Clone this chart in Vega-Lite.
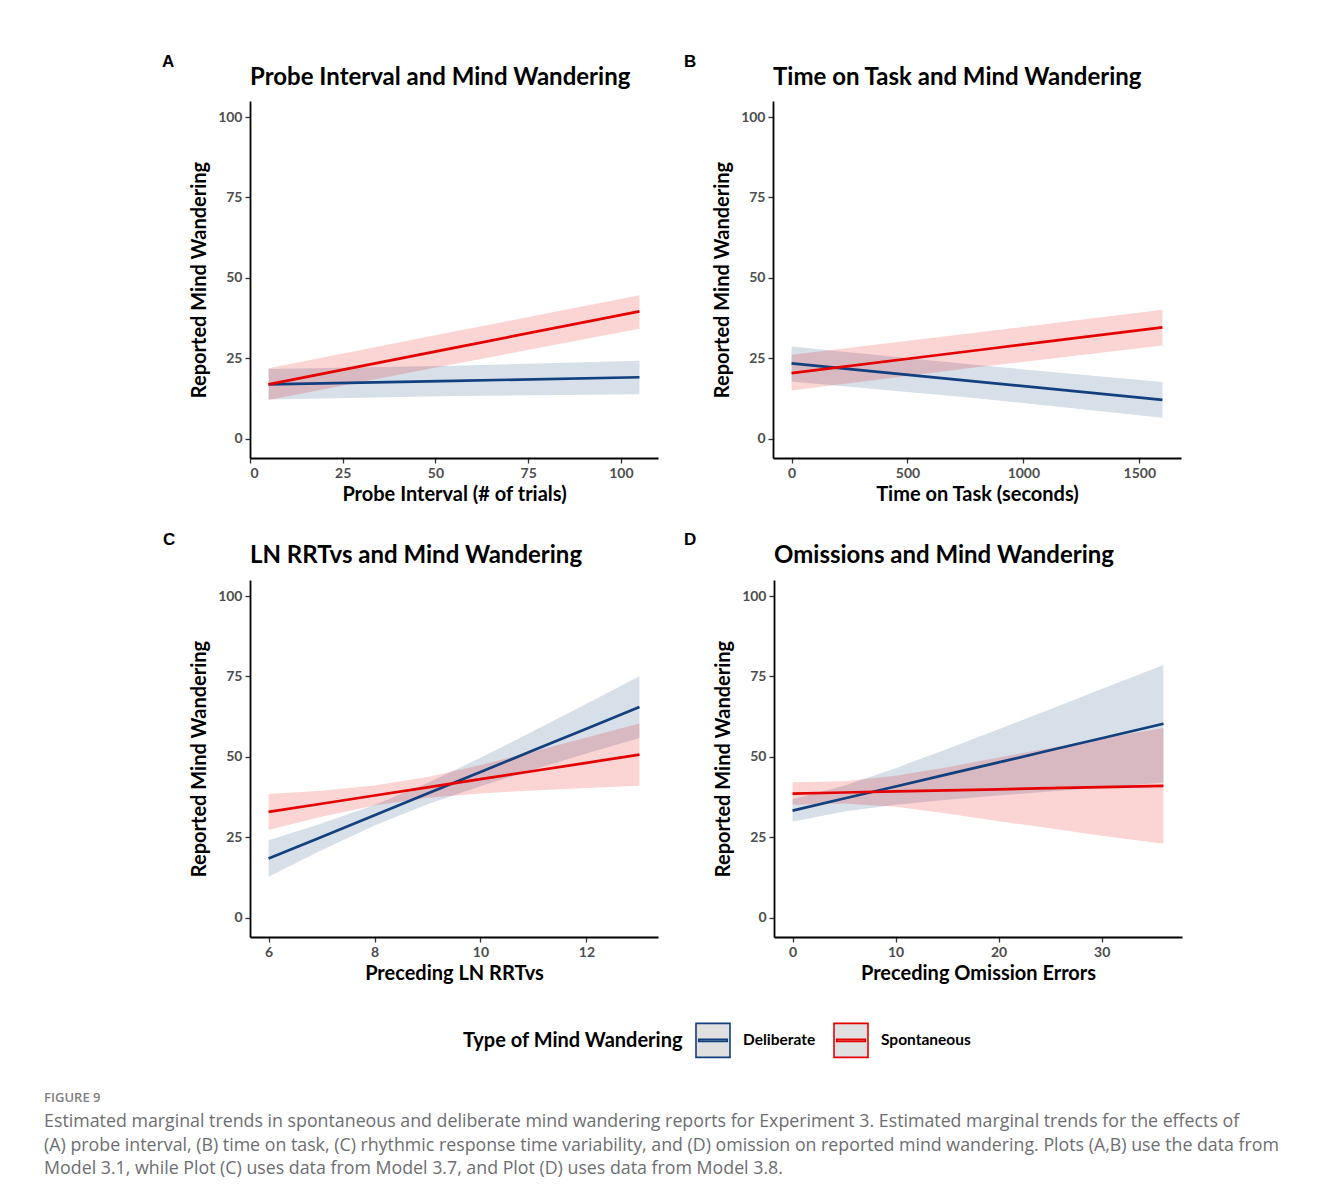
{
  "$schema": "https://vega.github.io/schema/vega-lite/v6.json",
  "background": "white",
  "padding": {"left": 44, "top": 52, "right": 0, "bottom": 0},
  "datasets": {
    "trend": [
      {"panel": "A", "type": "Deliberate", "x": 5, "fit": 16.9, "lo": 12.2, "hi": 21.7},
      {"panel": "A", "type": "Deliberate", "x": 55, "fit": 18.0, "lo": 13.3, "hi": 22.7},
      {"panel": "A", "type": "Deliberate", "x": 105, "fit": 19.1, "lo": 13.8, "hi": 24.2},
      {"panel": "A", "type": "Spontaneous", "x": 5, "fit": 16.9, "lo": 12.0, "hi": 21.9},
      {"panel": "A", "type": "Spontaneous", "x": 55, "fit": 28.25, "lo": 23.2, "hi": 33.3},
      {"panel": "A", "type": "Spontaneous", "x": 105, "fit": 39.6, "lo": 34.2, "hi": 44.6},
      {"panel": "B", "type": "Deliberate", "x": 0, "fit": 23.4, "lo": 17.8, "hi": 28.7},
      {"panel": "B", "type": "Deliberate", "x": 800, "fit": 17.75, "lo": 12.6, "hi": 22.9},
      {"panel": "B", "type": "Deliberate", "x": 1600, "fit": 12.1, "lo": 6.5, "hi": 17.6},
      {"panel": "B", "type": "Spontaneous", "x": 0, "fit": 20.4, "lo": 15.0, "hi": 26.1},
      {"panel": "B", "type": "Spontaneous", "x": 800, "fit": 27.5, "lo": 22.2, "hi": 33.0},
      {"panel": "B", "type": "Spontaneous", "x": 1600, "fit": 34.6, "lo": 29.0, "hi": 40.1},
      {"panel": "C", "type": "Deliberate", "x": 6, "fit": 18.4, "lo": 12.74, "hi": 24.06},
      {"panel": "C", "type": "Deliberate", "x": 7, "fit": 25.13, "lo": 20.99, "hi": 29.27},
      {"panel": "C", "type": "Deliberate", "x": 8, "fit": 31.86, "lo": 28.68, "hi": 35.04},
      {"panel": "C", "type": "Deliberate", "x": 9, "fit": 38.59, "lo": 35.29, "hi": 41.89},
      {"panel": "C", "type": "Deliberate", "x": 10, "fit": 45.32, "lo": 40.91, "hi": 49.73},
      {"panel": "C", "type": "Deliberate", "x": 11, "fit": 52.05, "lo": 46.06, "hi": 58.04},
      {"panel": "C", "type": "Deliberate", "x": 12, "fit": 58.77, "lo": 51.02, "hi": 66.52},
      {"panel": "C", "type": "Deliberate", "x": 13, "fit": 65.5, "lo": 55.91, "hi": 75.09},
      {"panel": "C", "type": "Spontaneous", "x": 6, "fit": 32.9, "lo": 27.3, "hi": 38.5},
      {"panel": "C", "type": "Spontaneous", "x": 7, "fit": 35.44, "lo": 31.38, "hi": 39.5},
      {"panel": "C", "type": "Spontaneous", "x": 8, "fit": 37.99, "lo": 34.9, "hi": 41.08},
      {"panel": "C", "type": "Spontaneous", "x": 9, "fit": 40.53, "lo": 37.28, "hi": 43.78},
      {"panel": "C", "type": "Spontaneous", "x": 10, "fit": 43.07, "lo": 38.65, "hi": 47.49},
      {"panel": "C", "type": "Spontaneous", "x": 11, "fit": 45.62, "lo": 39.58, "hi": 51.66},
      {"panel": "C", "type": "Spontaneous", "x": 12, "fit": 48.16, "lo": 40.32, "hi": 56.0},
      {"panel": "C", "type": "Spontaneous", "x": 13, "fit": 50.7, "lo": 40.99, "hi": 60.41},
      {"panel": "D", "type": "Deliberate", "x": 0, "fit": 33.3, "lo": 29.8, "hi": 36.8},
      {"panel": "D", "type": "Deliberate", "x": 5, "fit": 37.05, "lo": 33.05, "hi": 41.05},
      {"panel": "D", "type": "Deliberate", "x": 10, "fit": 40.8, "lo": 35.1, "hi": 46.5},
      {"panel": "D", "type": "Deliberate", "x": 15, "fit": 44.55, "lo": 36.65, "hi": 52.45},
      {"panel": "D", "type": "Deliberate", "x": 20, "fit": 48.3, "lo": 38.0, "hi": 58.6},
      {"panel": "D", "type": "Deliberate", "x": 25, "fit": 52.05, "lo": 39.25, "hi": 64.85},
      {"panel": "D", "type": "Deliberate", "x": 30, "fit": 55.8, "lo": 40.5, "hi": 71.1},
      {"panel": "D", "type": "Deliberate", "x": 36, "fit": 60.3, "lo": 42.0, "hi": 78.6},
      {"panel": "D", "type": "Spontaneous", "x": 0, "fit": 38.6, "lo": 35.1, "hi": 42.1},
      {"panel": "D", "type": "Spontaneous", "x": 5, "fit": 38.93, "lo": 35.5, "hi": 42.4},
      {"panel": "D", "type": "Spontaneous", "x": 10, "fit": 39.27, "lo": 34.5, "hi": 44.1},
      {"panel": "D", "type": "Spontaneous", "x": 15, "fit": 39.6, "lo": 32.4, "hi": 46.8},
      {"panel": "D", "type": "Spontaneous", "x": 20, "fit": 39.93, "lo": 30.0, "hi": 49.8},
      {"panel": "D", "type": "Spontaneous", "x": 25, "fit": 40.27, "lo": 27.8, "hi": 52.8},
      {"panel": "D", "type": "Spontaneous", "x": 30, "fit": 40.6, "lo": 25.5, "hi": 55.7},
      {"panel": "D", "type": "Spontaneous", "x": 36, "fit": 41.0, "lo": 23.0, "hi": 59.0}
    ]
  },
  "vconcat": [
    {
      "hconcat": [
        {
          "width": 408, "height": 357,
          "title": {"text": "Probe Interval and Mind Wandering"},
          "layer": [
            {"data": {"name": "trend"}, "transform": [{"filter": "datum.panel === 'A' && datum.type === 'Deliberate'"}],
             "mark": {"type": "area", "color": "#123f7d", "fillOpacity": 0.17},
             "encoding": {
               "x": {"field": "x", "type": "quantitative", "scale": {"domain": [0, 110], "nice": false, "zero": false}, "axis": {"values": [0, 25, 50, 75, 100], "format": "d", "title": "Probe Interval (# of trials)"}},
               "y": {"field": "lo", "type": "quantitative", "scale": {"domain": [-6, 105], "nice": false, "zero": false}, "axis": {"values": [0, 25, 50, 75, 100], "title": "Reported Mind Wandering"}},
               "y2": {"field": "hi"}}},
            {"data": {"name": "trend"}, "transform": [{"filter": "datum.panel === 'A' && datum.type === 'Spontaneous'"}],
             "mark": {"type": "area", "color": "#e50000", "fillOpacity": 0.17},
             "encoding": {"x": {"field": "x", "type": "quantitative"}, "y": {"field": "lo", "type": "quantitative"}, "y2": {"field": "hi"}}},
            {"data": {"name": "trend"}, "transform": [{"filter": "datum.panel === 'A'"}],
             "mark": {"type": "line", "strokeWidth": 2.7},
             "encoding": {
               "x": {"field": "x", "type": "quantitative"},
               "y": {"field": "fit", "type": "quantitative"},
               "color": {"field": "type", "type": "nominal", "scale": {"domain": ["Deliberate", "Spontaneous"], "range": ["#123f7d", "#e50000"]},
                 "legend": {"orient": "none", "legendX": 213, "legendY": 921, "direction": "horizontal", "title": "Type of Mind Wandering"}}
             }},
            {"data": {"values": [{"label": "A"}]},
             "mark": {"type": "text", "align": "left", "baseline": "alphabetic", "fontSize": 17, "fontWeight": "bold", "font": "Liberation Sans", "color": "black"},
             "encoding": {"x": {"datum": -23.7}, "y": {"datum": 115.6}, "text": {"field": "label"}}}
          ]
        },
        {
          "width": 408, "height": 357,
          "title": {"text": "Time on Task and Mind Wandering"},
          "layer": [
            {"data": {"name": "trend"}, "transform": [{"filter": "datum.panel === 'B' && datum.type === 'Deliberate'"}],
             "mark": {"type": "area", "color": "#123f7d", "fillOpacity": 0.17},
             "encoding": {
               "x": {"field": "x", "type": "quantitative", "scale": {"domain": [-80, 1680], "nice": false, "zero": false}, "axis": {"values": [0, 500, 1000, 1500], "format": "d", "title": "Time on Task (seconds)"}},
               "y": {"field": "lo", "type": "quantitative", "scale": {"domain": [-6, 105], "nice": false, "zero": false}, "axis": {"values": [0, 25, 50, 75, 100], "title": "Reported Mind Wandering"}},
               "y2": {"field": "hi"}}},
            {"data": {"name": "trend"}, "transform": [{"filter": "datum.panel === 'B' && datum.type === 'Spontaneous'"}],
             "mark": {"type": "area", "color": "#e50000", "fillOpacity": 0.17},
             "encoding": {"x": {"field": "x", "type": "quantitative"}, "y": {"field": "lo", "type": "quantitative"}, "y2": {"field": "hi"}}},
            {"data": {"name": "trend"}, "transform": [{"filter": "datum.panel === 'B'"}],
             "mark": {"type": "line", "strokeWidth": 2.7},
             "encoding": {
               "x": {"field": "x", "type": "quantitative"},
               "y": {"field": "fit", "type": "quantitative"},
               "color": {"field": "type", "type": "nominal", "scale": {"domain": ["Deliberate", "Spontaneous"], "range": ["#123f7d", "#e50000"]},
                 "legend": {"orient": "none", "legendX": 213, "legendY": 921, "direction": "horizontal", "title": "Type of Mind Wandering"}}
             }},
            {"data": {"values": [{"label": "B"}]},
             "mark": {"type": "text", "align": "left", "baseline": "alphabetic", "fontSize": 17, "fontWeight": "bold", "font": "Liberation Sans", "color": "black"},
             "encoding": {"x": {"datum": -464}, "y": {"datum": 115.6}, "text": {"field": "label"}}}
          ]
        }
      ],
      "spacing": 25
    },
    {
      "hconcat": [
        {
          "width": 408, "height": 357,
          "title": {"text": "LN RRTvs and Mind Wandering"},
          "layer": [
            {"data": {"name": "trend"}, "transform": [{"filter": "datum.panel === 'C' && datum.type === 'Deliberate'"}],
             "mark": {"type": "area", "color": "#123f7d", "fillOpacity": 0.17},
             "encoding": {
               "x": {"field": "x", "type": "quantitative", "scale": {"domain": [5.65, 13.35], "nice": false, "zero": false}, "axis": {"values": [6, 8, 10, 12], "format": "d", "title": "Preceding LN RRTvs"}},
               "y": {"field": "lo", "type": "quantitative", "scale": {"domain": [-6, 105], "nice": false, "zero": false}, "axis": {"values": [0, 25, 50, 75, 100], "title": "Reported Mind Wandering"}},
               "y2": {"field": "hi"}}},
            {"data": {"name": "trend"}, "transform": [{"filter": "datum.panel === 'C' && datum.type === 'Spontaneous'"}],
             "mark": {"type": "area", "color": "#e50000", "fillOpacity": 0.17},
             "encoding": {"x": {"field": "x", "type": "quantitative"}, "y": {"field": "lo", "type": "quantitative"}, "y2": {"field": "hi"}}},
            {"data": {"name": "trend"}, "transform": [{"filter": "datum.panel === 'C'"}],
             "mark": {"type": "line", "strokeWidth": 2.7},
             "encoding": {
               "x": {"field": "x", "type": "quantitative"},
               "y": {"field": "fit", "type": "quantitative"},
               "color": {"field": "type", "type": "nominal", "scale": {"domain": ["Deliberate", "Spontaneous"], "range": ["#123f7d", "#e50000"]},
                 "legend": {"orient": "none", "legendX": 213, "legendY": 921, "direction": "horizontal", "title": "Type of Mind Wandering"}}
             }},
            {"data": {"values": [{"label": "C"}]},
             "mark": {"type": "text", "align": "left", "baseline": "alphabetic", "fontSize": 17, "fontWeight": "bold", "font": "Liberation Sans", "color": "black"},
             "encoding": {"x": {"datum": 4.01}, "y": {"datum": 115.9}, "text": {"field": "label"}}}
          ]
        },
        {
          "width": 408, "height": 357,
          "title": {"text": "Omissions and Mind Wandering"},
          "layer": [
            {"data": {"name": "trend"}, "transform": [{"filter": "datum.panel === 'D' && datum.type === 'Deliberate'"}],
             "mark": {"type": "area", "color": "#123f7d", "fillOpacity": 0.17},
             "encoding": {
               "x": {"field": "x", "type": "quantitative", "scale": {"domain": [-1.8, 37.8], "nice": false, "zero": false}, "axis": {"values": [0, 10, 20, 30], "format": "d", "title": "Preceding Omission Errors"}},
               "y": {"field": "lo", "type": "quantitative", "scale": {"domain": [-6, 105], "nice": false, "zero": false}, "axis": {"values": [0, 25, 50, 75, 100], "title": "Reported Mind Wandering"}},
               "y2": {"field": "hi"}}},
            {"data": {"name": "trend"}, "transform": [{"filter": "datum.panel === 'D' && datum.type === 'Spontaneous'"}],
             "mark": {"type": "area", "color": "#e50000", "fillOpacity": 0.17},
             "encoding": {"x": {"field": "x", "type": "quantitative"}, "y": {"field": "lo", "type": "quantitative"}, "y2": {"field": "hi"}}},
            {"data": {"name": "trend"}, "transform": [{"filter": "datum.panel === 'D'"}],
             "mark": {"type": "line", "strokeWidth": 2.7},
             "encoding": {
               "x": {"field": "x", "type": "quantitative"},
               "y": {"field": "fit", "type": "quantitative"},
               "color": {"field": "type", "type": "nominal", "scale": {"domain": ["Deliberate", "Spontaneous"], "range": ["#123f7d", "#e50000"]},
                 "legend": {"orient": "none", "legendX": 213, "legendY": 921, "direction": "horizontal", "title": "Type of Mind Wandering"}}
             }},
            {"data": {"values": [{"label": "D"}]},
             "mark": {"type": "text", "align": "left", "baseline": "alphabetic", "fontSize": 17, "fontWeight": "bold", "font": "Liberation Sans", "color": "black"},
             "encoding": {"x": {"datum": -10.54}, "y": {"datum": 115.9}, "text": {"field": "label"}}}
          ]
        }
      ],
      "spacing": 25
    }
  ],
  "spacing": 26,
  "title": {
    "text": "FIGURE 9",
    "subtitle": [
      "Estimated marginal trends in spontaneous and deliberate mind wandering reports for Experiment 3. Estimated marginal trends for the effects of",
      "(A) probe interval, (B) time on task, (C) rhythmic response time variability, and (D) omission on reported mind wandering. Plots (A,B) use the data from",
      "Model 3.1, while Plot (C) uses data from Model 3.7, and Plot (D) uses data from Model 3.8."
    ],
    "orient": "bottom", "anchor": "start", "frame": "bounds", "dx": -118, "offset": 31,
    "font": "Open Sans", "fontSize": 13, "fontWeight": 600, "color": "#808080",
    "subtitleFont": "Open Sans", "subtitleFontSize": 17.8, "subtitleFontWeight": "normal", "subtitleColor": "#6d6e71", "subtitleLineHeight": 23.5, "subtitlePadding": 8
  },
  "config": {
    "font": "Lato",
    "view": {"stroke": null},
    "axis": {"grid": false, "domainColor": "black", "domainWidth": 1.8, "tickColor": "#333333", "tickWidth": 1.3, "tickSize": 5, "labelFont": "Lato", "labelFontSize": 14, "labelFontWeight": "bold", "labelColor": "#4d4d4d", "titleFont": "Lato", "titleFontSize": 20, "titleFontWeight": "bold", "titleColor": "black"},
    "axisX": {"labelPadding": 3, "titlePadding": 4},
    "axisY": {"labelPadding": 3, "titlePadding": 8},
    "title": {"font": "Lato", "fontSize": 24, "fontWeight": "bold", "anchor": "start", "frame": "group", "color": "black", "offset": -37.5},
    "legend": {"titleOrient": "left", "titleAnchor": "middle", "titleBaseline": "middle", "titleLimit": 400, "titleFontSize": 20, "titleFontWeight": "bold", "titleColor": "black", "titleFont": "Lato", "titlePadding": 12, "labelFontSize": 15.5, "labelFontWeight": "bold", "labelFont": "Lato", "labelColor": "black", "labelOffset": 12, "columnPadding": 14, "symbolType": "M-1,-1H1V1H-1Z M-0.84,-0.06H0.84V0.06H-0.84Z", "symbolSize": 1156, "symbolFillColor": "#e0e0e0", "symbolStrokeWidth": 1.6}
  }
}
